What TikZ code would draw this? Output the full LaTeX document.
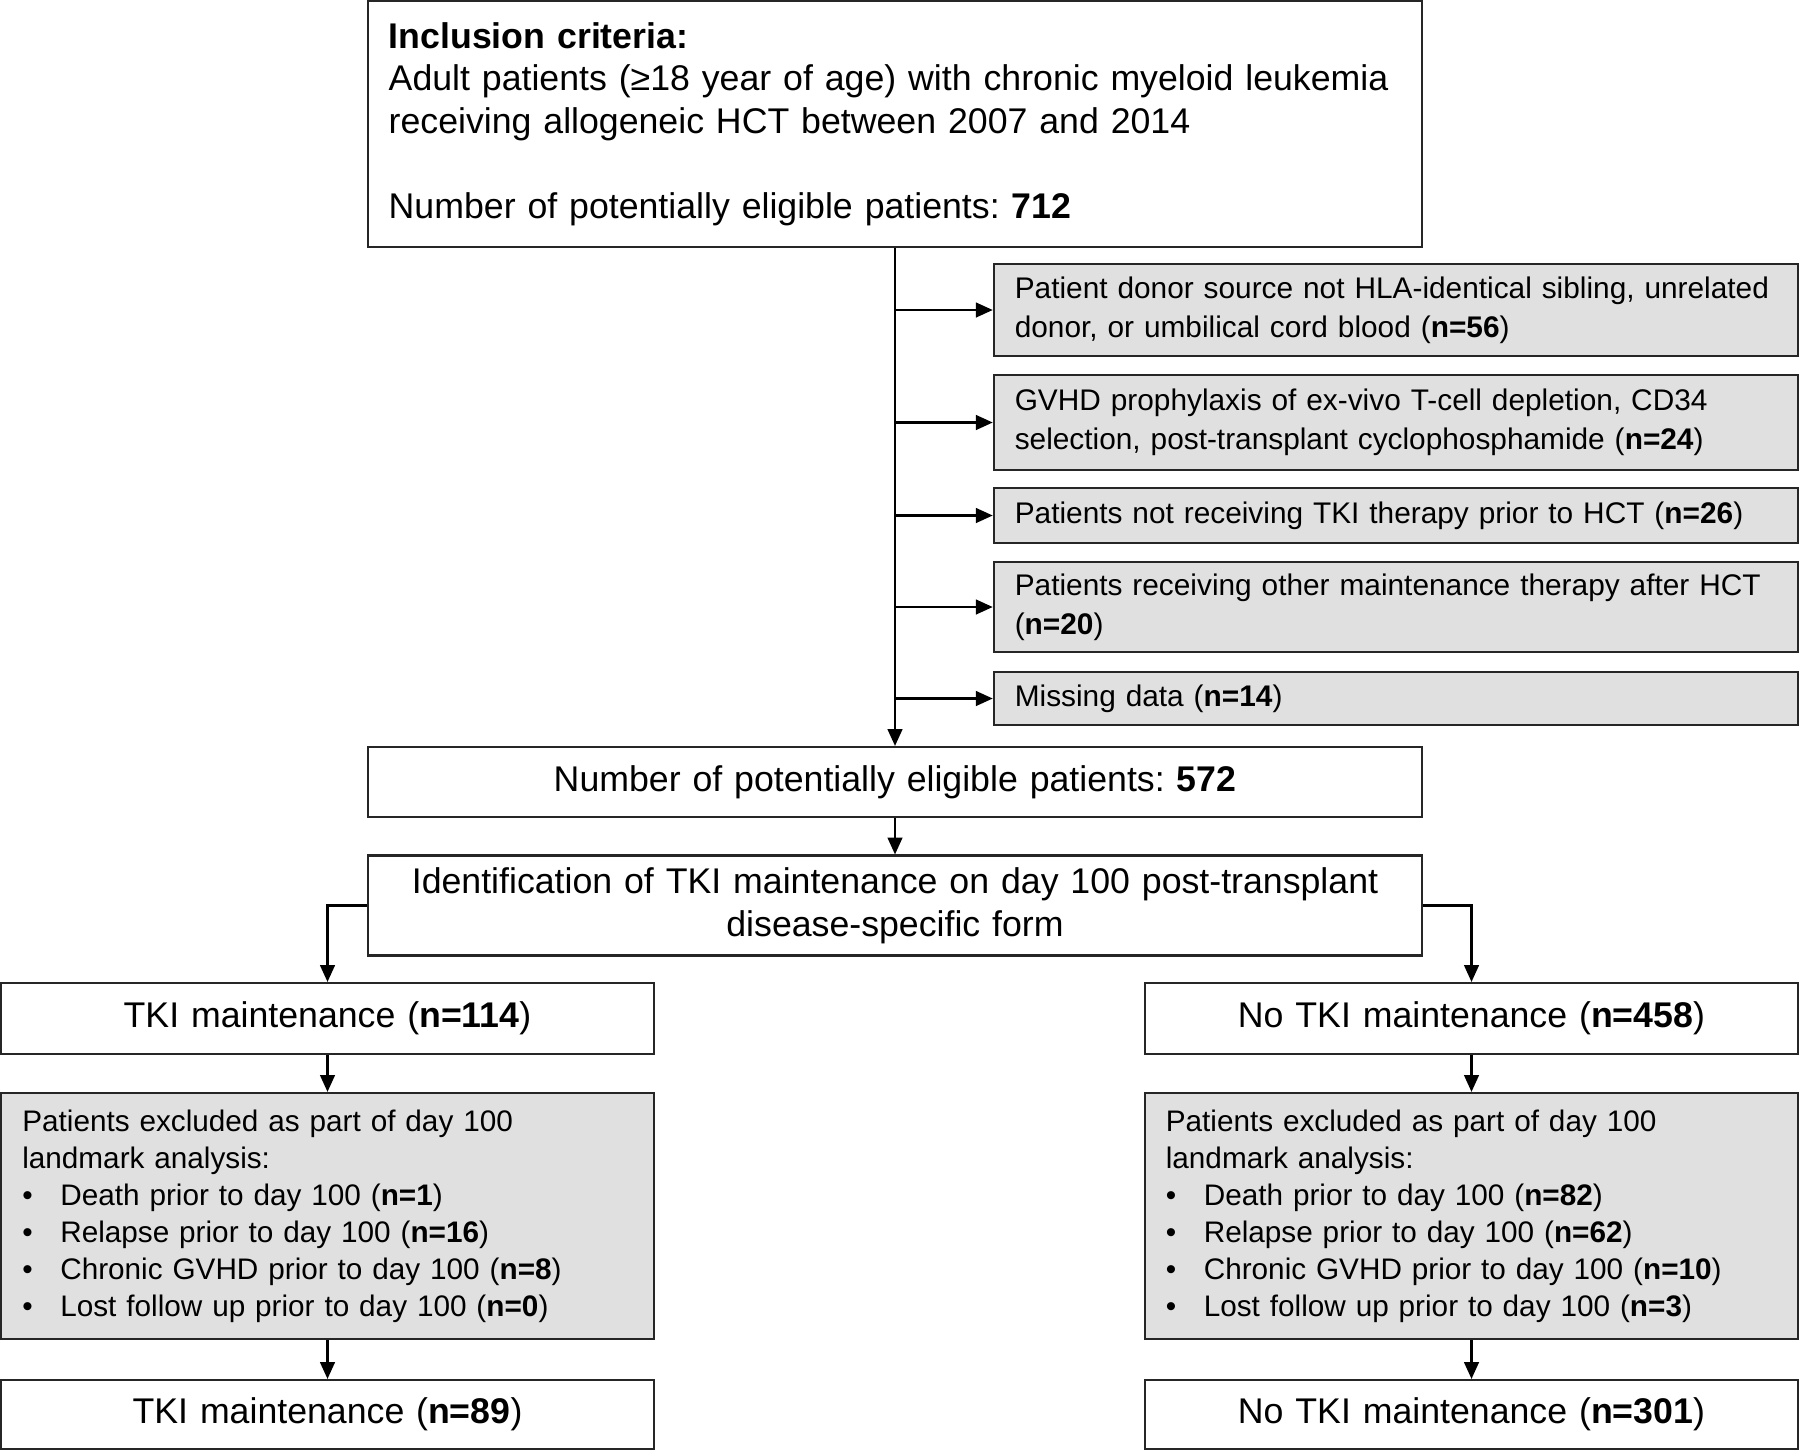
\documentclass[tikz,border=0pt]{standalone}
\usepackage{fontspec}
\setmainfont{Liberation Sans}
\usepackage{tikz}
\usetikzlibrary{arrows.meta}
\definecolor{boxgrey}{RGB}{224,224,224}
\frenchspacing
\newcommand{\bigfont}{\fontsize{10.15}{12.1}\selectfont}
\newcommand{\smallfont}{\fontsize{8.48}{11.1}\selectfont}
\newcommand{\listfont}{\fontsize{8.45}{10.5}\selectfont}
\newcommand{\bul}{\makebox[0.38cm][l]{\textbullet}}
\tikzset{
  whitebox/.style={draw=black!85, line width=0.6pt, fill=white, inner xsep=0.21cm, inner ysep=0pt, font=\bigfont, align=center},
  greybox/.style={draw=black!85, line width=0.6pt, fill=boxgrey, inner xsep=0.21cm, inner ysep=0pt, font=\smallfont, align=left},
  arr/.style={-{Triangle[length=4.8pt,width=4.2pt]}, line width=0.6pt}
}

\begin{document}
\begin{tikzpicture}[x=0.01cm, y=-0.01cm]
\useasboundingbox (0,0) rectangle (1800,1451);

\node [whitebox, align=left, text width=10.12cm, minimum height=2.46cm] (top) at (895,124)
  {\textbf{Inclusion criteria:}\\
   Adult patients (≥18 year of age) with chronic myeloid leukemia\\
   receiving allogeneic HCT between 2007 and 2014\\[12.1pt]
   Number of potentially eligible patients: \textbf{712}};

\node [greybox, text width=7.62cm, minimum height=0.92cm] (ex1) at (1396,310)
  {Patient donor source not HLA-identical sibling, unrelated\\
   donor, or umbilical cord blood (\textbf{n=56})};
\node [greybox, text width=7.62cm, minimum height=0.95cm] (ex2) at (1396,422.5)
  {GVHD prophylaxis of ex-vivo T-cell depletion, CD34\\
   selection, post-transplant cyclophosphamide (\textbf{n=24})};
\node [greybox, text width=7.62cm, minimum height=0.55cm] (ex3) at (1396,515.5)
  {Patients not receiving TKI therapy prior to HCT (\textbf{n=26})};
\node [greybox, text width=7.62cm, minimum height=0.90cm] (ex4) at (1396,607)
  {Patients receiving other maintenance therapy after HCT\\
   (\textbf{n=20})};
\node [greybox, text width=7.62cm, minimum height=0.53cm] (ex5) at (1396,698.5)
  {Missing data (\textbf{n=14})};

\node [whitebox, text width=10.12cm, minimum height=0.70cm] (eligible) at (895,782)
  {Number of potentially eligible patients: \textbf{572}};
\node [whitebox, text width=10.12cm, minimum height=1.00cm] (ident) at (895,905.5)
  {Identification of TKI maintenance on day 100 post-transplant\\
   disease-specific form};

\node [whitebox, text width=6.10cm, minimum height=0.71cm] (tki) at (327.5,1018.5)
  {TKI maintenance (\textbf{n=114})};
\node [whitebox, text width=6.11cm, minimum height=0.71cm] (notki) at (1471.5,1018.5)
  {No TKI maintenance (\textbf{n=458})};

\node [greybox, font=\listfont, text width=6.10cm, minimum height=2.46cm] (landl) at (327.5,1216)
  {Patients excluded as part of day 100\\
   landmark analysis:\\
   \bul Death prior to day 100 (\textbf{n=1})\\
   \bul Relapse prior to day 100 (\textbf{n=16})\\
   \bul Chronic GVHD prior to day 100 (\textbf{n=8})\\
   \bul Lost follow up prior to day 100 (\textbf{n=0})};
\node [greybox, font=\listfont, text width=6.11cm, minimum height=2.46cm] (landr) at (1471.5,1216)
  {Patients excluded as part of day 100\\
   landmark analysis:\\
   \bul Death prior to day 100 (\textbf{n=82})\\
   \bul Relapse prior to day 100 (\textbf{n=62})\\
   \bul Chronic GVHD prior to day 100 (\textbf{n=10})\\
   \bul Lost follow up prior to day 100 (\textbf{n=3})};

\node [whitebox, text width=6.10cm, minimum height=0.69cm] (finl) at (327.5,1414.5)
  {TKI maintenance (\textbf{n=89})};
\node [whitebox, text width=6.11cm, minimum height=0.69cm] (finr) at (1471.5,1414.5)
  {No TKI maintenance (\textbf{n=301})};

\draw [arr] (top.south) -- (eligible.north);
\draw [arr] (top.south |- ex1.west) -- (ex1.west);
\draw [arr] (top.south |- ex2.west) -- (ex2.west);
\draw [arr] (top.south |- ex3.west) -- (ex3.west);
\draw [arr] (top.south |- ex4.west) -- (ex4.west);
\draw [arr] (top.south |- ex5.west) -- (ex5.west);

\draw [arr] (eligible.south) -- (ident.north);
\draw [arr] (ident.west) -| (tki.north);
\draw [arr] (ident.east) -| (notki.north);

\draw [arr] (tki.south) -- (landl.north);
\draw [arr] (notki.south) -- (landr.north);
\draw [arr] (landl.south) -- (finl.north);
\draw [arr] (landr.south) -- (finr.north);
\end{tikzpicture}
\end{document}
